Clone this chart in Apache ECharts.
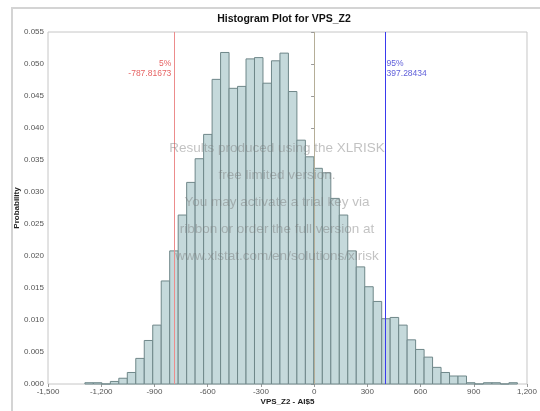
<!DOCTYPE html>
<html lang="en">
<head>
<meta charset="utf-8">
<style>
  html, body, #container { width: 540px; height: 411px; margin: 0; padding: 0; background: #fff; }
</style>
</head>
<body>
<div id="container"></div>
<script src="https://cdn.jsdelivr.net/npm/echarts@6/dist/echarts.min.js"></script>
<script>
// histogram bins (probability per bin)
var binStart = -1292;
var binWidth = 47.8;
var probs = [
  0.0002, 0.0002, 0, 0.0004, 0.0009, 0.0018, 0.0040, 0.0068, 0.0092,
  0.0161, 0.0208, 0.0264, 0.0315, 0.0352, 0.0390, 0.0476, 0.0518, 0.0462,
  0.0465, 0.0508, 0.0510, 0.0470, 0.0505, 0.0517, 0.0457, 0.0381, 0.0355,
  0.0337, 0.0330, 0.0290, 0.0264, 0.0208, 0.0183, 0.0152, 0.0129,
  0.0102, 0.0104, 0.0092, 0.0069, 0.0054, 0.0042, 0.0026, 0.0018, 0.00125, 0.00125,
  0.0002, 0, 0.0002, 0.0002, 0, 0.0002
];
var pctNames = ['5%', '95%'];
var pctValues = [-787.81673, 397.28434];
var pctColors = ['#e03a3a', '#3434d0'];
var lineColors = ['#ec8c8c', '#3a3aee'];
var meanLine = 0;
var watermark = [
  'Results produced using the XLRISK',
  'free limited version.',
  'You may activate a trial key via',
  'ribbon or order the full version at',
  'www.xlstat.com/en/solutions/xlrisk'
];

var bins = probs.map(function (p, i) {
  return [binStart + i * binWidth, binStart + (i + 1) * binWidth, p];
});
var refLines = [
  [pctValues[0], lineColors[0]],
  [meanLine, '#b5ae98'],
  [pctValues[1], lineColors[1]]
];

var dom = document.getElementById('container');
var myChart = echarts.init(dom, null, { renderer: 'canvas' });
var font = 'Liberation Sans, Arial, sans-serif';

var option = {
  animation: false,
  textStyle: { fontFamily: font },
  title: {
    text: 'Histogram Plot for VPS_Z2',
    left: 279, top: 9, textAlign: 'center',
    textStyle: { fontSize: 10.5, fontWeight: 'bold', color: '#111', fontFamily: font }
  },
  grid: {
    left: 48, right: 12, top: 32, bottom: 27,
    show: true, borderColor: '#c6c6c6', borderWidth: 1, backgroundColor: '#fff'
  },
  xAxis: {
    type: 'value', min: -1500, max: 1200, interval: 300,
    name: 'VPS_Z2 - AI$5', nameLocation: 'middle', nameGap: 14,
    nameMoveOverlap: false,
    nameTextStyle: { fontSize: 8, fontWeight: 'bold', color: '#222' },
    axisLine: { show: false },
    axisTick: { show: true, length: 3, lineStyle: { color: '#999' } },
    splitLine: { show: false },
    axisLabel: {
      fontSize: 8, color: '#555', margin: 4,
      formatter: function (v) { return v.toLocaleString('en-US'); }
    }
  },
  yAxis: {
    type: 'value', min: 0, max: 0.055, interval: 0.005,
    name: 'Probability', nameLocation: 'middle', nameGap: 27,
    nameMoveOverlap: false,
    nameTextStyle: { fontSize: 8, fontWeight: 'bold', color: '#222' },
    axisLine: { show: false },
    axisTick: { show: true, length: 3, lineStyle: { color: '#999' } },
    splitLine: { show: false },
    axisLabel: {
      fontSize: 8, color: '#555', margin: 4,
      formatter: function (v) { return v.toFixed(3); }
    }
  },
  series: [
    {
      type: 'custom',
      data: bins,
      encode: { x: [0, 1], y: 2 },
      renderItem: function (params, api) {
        var top = api.coord([api.value(0), api.value(2)]);
        var bot = api.coord([api.value(1), 0]);
        return {
          type: 'rect',
          shape: { x: top[0], y: top[1], width: bot[0] - top[0], height: bot[1] - top[1] },
          style: { fill: '#c5d9db', stroke: '#6f8789', lineWidth: 1 }
        };
      }
    },
    {
      // vertical reference lines (5%, 0, 95%)
      type: 'custom', silent: true, z: 5,
      data: refLines.map(function (r) { return [r[0]]; }),
      encode: { x: 0 },
      renderItem: function (params, api) {
        var x = api.value(0);
        var p0 = api.coord([x, 0]);
        var p1 = api.coord([x, 0.055]);
        var px = Math.round(p0[0]) + 0.5;
        return {
          type: 'line',
          shape: { x1: px, y1: p0[1], x2: px, y2: p1[1] },
          style: { stroke: refLines[params.dataIndex][1], lineWidth: 1 }
        };
      }
    },
    {
      type: 'scatter', symbolSize: 0, silent: true,
      data: [
        { value: [pctValues[0], 0.0492], label: { position: 'left', distance: 3, align: 'right', color: pctColors[0] } },
        { value: [pctValues[1], 0.0492], label: { position: 'right', distance: 2, align: 'left', color: pctColors[1] } }
      ],
      label: {
        show: true, fontSize: 8.5, lineHeight: 10,
        formatter: function (p) {
          return pctNames[p.dataIndex] + '\n' + pctValues[p.dataIndex];
        }
      }
    }
  ],
  graphic: [
    {
      type: 'rect', silent: true, z: -10,
      shape: { x: 12, y: 8, width: 540, height: 420 },
      style: { fill: 'none', stroke: '#d4d4d4', lineWidth: 2 }
    },
    {
      type: 'text', silent: true, z: 100,
      x: 277, y: 135,
      style: {
        text: watermark.join('\n'),
        textAlign: 'center', textVerticalAlign: 'top',
        font: '13.5px ' + font, lineHeight: 27,
        fill: 'rgba(120,120,120,0.45)'
      }
    }
  ]
};

myChart.setOption(option);
window.addEventListener('resize', myChart.resize);
</script>
</body>
</html>
